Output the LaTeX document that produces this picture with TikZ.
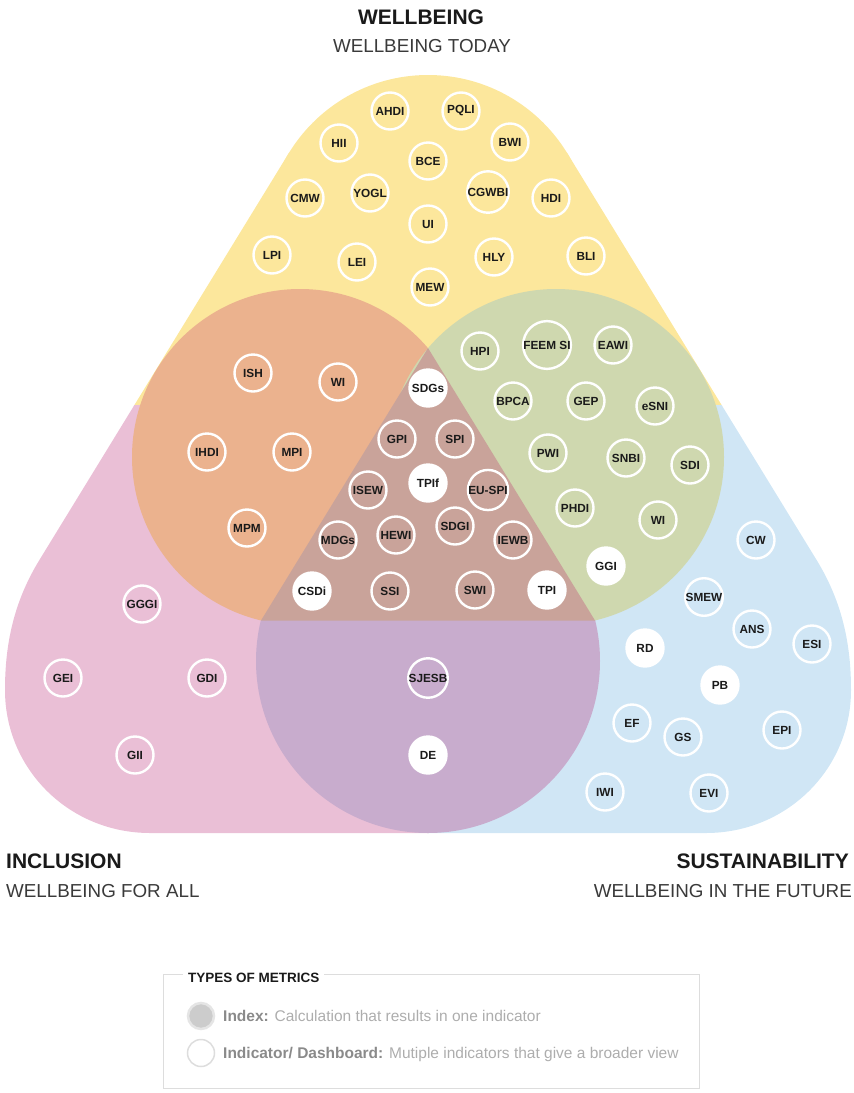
\documentclass[tikz,border=0pt]{standalone}
\usepackage{fontspec}
\setmainfont{Liberation Sans}
\definecolor{cyel}{HTML}{FCE79C}
\definecolor{cpink}{HTML}{EABFD6}
\definecolor{cblue}{HTML}{D0E6F5}
\definecolor{corange}{HTML}{EBB28E}
\definecolor{cgreen}{HTML}{CFD8AF}
\definecolor{cpurple}{HTML}{C8ACCD}
\definecolor{cbrown}{HTML}{C9A39A}
\definecolor{ctext}{HTML}{1A1A1A}
\definecolor{csub}{HTML}{3A3A3A}
\definecolor{cbox}{HTML}{DDDDDD}
\definecolor{clegA}{HTML}{8A8A8A}
\definecolor{clegB}{HTML}{ADADAD}
\newcommand\labf{\fontsize{11.8}{13}\selectfont\bfseries}
\newcommand\titf{\fontsize{21}{24}\selectfont\bfseries}
\newcommand\subf{\fontsize{18.8}{22}\selectfont}
\begin{document}
\begin{tikzpicture}[x=1pt,y=-1pt,
  idx/.style={circle, draw=white, line width=2.4pt, minimum size=37pt, inner sep=0pt, font=\labf, text=ctext},
  ind/.style={idx, fill=white},
  ttl/.style={inner sep=0pt, font=\titf, text=ctext},
  sub/.style={inner sep=0pt, font=\subf, text=csub}]
\useasboundingbox (0,0) rectangle (854,1093);
\def\hullpoly{(289,152.8) -- (39.4,560) .. controls (13.3,602.6) and (5,645) .. (5,690) .. controls (5,770) and (70,833) .. (150,833) -- (706,833) .. controls (786,833) and (851,770) .. (851,690) .. controls (851,645) and (842.7,602.6) .. (816.6,560) -- (567,152.8) -- cycle}
% background sets
\begin{scope}
  \clip (0,0) rectangle (854,405);
  \fill[cyel] \hullpoly;
  \fill[cyel] (428,238) circle[radius=163];
\end{scope}
\begin{scope}
  \clip (0,405) rectangle (428,1093);
  \fill[cpink] \hullpoly;
\end{scope}
\begin{scope}
  \clip (428,405) rectangle (854,1093);
  \fill[cblue] \hullpoly;
\end{scope}
% pairwise overlaps
\fill[corange] (300,457) circle[radius=168];
\fill[cgreen] (556,457) circle[radius=168];
\begin{scope}
  \clip (0,620.5) rectangle (854,1093);
  \fill[cpurple] (428,661) circle[radius=172];
\end{scope}
\fill[cbrown] (428,348) -- (261,620.5) -- (595,620.5) -- cycle;

% Wellbeing
\node[idx] (ahdi) at (390,111) {AHDI};
\node[idx] (pqli) at (461,111) {PQLI};
\node[idx] (hii) at (339,143) {HII};
\node[idx] (bwi) at (510,142) {BWI};
\node[idx] (bce) at (428,161) {BCE};
\node[idx] (cmw) at (305,198) {CMW};
\node[idx] (yogl) at (370,193) {YOGL};
\node[idx] (cgwbi) at (488,192) {CGWBI};
\node[idx] (hdi) at (551,198) {HDI};
\node[idx] (ui) at (428,224) {UI};
\node[idx] (lpi) at (272,255) {LPI};
\node[idx] (lei) at (357,262) {LEI};
\node[idx] (hly) at (494,257) {HLY};
\node[idx] (bli) at (586,256) {BLI};
\node[idx] (mew) at (430,287) {MEW};
% Wellbeing & Inclusion
\node[idx] (ish) at (253,373) {ISH};
\node[idx] (wia) at (338,382) {WI};
\node[idx] (ihdi) at (207,452) {IHDI};
\node[idx] (mpi) at (292,452) {MPI};
\node[idx] (mpm) at (247,528) {MPM};
% centre
\node[ind] (sdgs) at (428,388) {SDGs};
\node[idx] (gpi) at (397,439) {GPI};
\node[idx] (spi) at (455,439) {SPI};
\node[ind] (tpif) at (428,483) {TPIf};
\node[idx] (isew) at (368,490) {ISEW};
\node[idx] (euspi) at (488,490) {EU-SPI};
\node[idx] (mdgs) at (338,540) {MDGs};
\node[idx] (hewi) at (396,535) {HEWI};
\node[idx] (sdgi) at (455,526) {SDGI};
\node[idx] (iewb) at (513,540) {IEWB};
\node[ind] (csdi) at (312,591) {CSDi};
\node[idx] (ssi) at (390,591) {SSI};
\node[idx] (swi) at (475,590) {SWI};
\node[ind] (tpi) at (547,590) {TPI};
% Wellbeing & Sustainability
\node[idx] (hpi) at (480,351) {HPI};
\node[idx] (feem) at (547,345) {FEEM SI};
\node[idx] (eawi) at (613,345) {EAWI};
\node[idx] (bpca) at (513,401) {BPCA};
\node[idx] (gep) at (586,401) {GEP};
\node[idx] (esni) at (655,406) {eSNI};
\node[idx] (pwi) at (548,453) {PWI};
\node[idx] (snbi) at (626,458) {SNBI};
\node[idx] (sdi) at (690,465) {SDI};
\node[idx] (phdi) at (575,508) {PHDI};
\node[idx] (wib) at (658,520) {WI};
\node[ind] (ggi) at (606,566) {GGI};
% Inclusion
\node[idx] (gggi) at (142,604) {GGGI};
\node[idx] (gei) at (63,678) {GEI};
\node[idx] (gdi) at (207,678) {GDI};
\node[idx] (gii) at (135,755) {GII};
% Inclusion & Sustainability
\node[idx] (sjesb) at (428,678) {SJESB};
\node[ind] (de) at (428,755) {DE};
% Sustainability
\node[idx] (cw) at (756,540) {CW};
\node[idx] (smew) at (704,597) {SMEW};
\node[idx] (ans) at (752,629) {ANS};
\node[idx] (esi) at (812,644) {ESI};
\node[ind] (rd) at (645,648) {RD};
\node[ind] (pb) at (720,685) {PB};
\node[idx] (ef) at (632,723) {EF};
\node[idx] (gs) at (683,737) {GS};
\node[idx] (epi) at (782,730) {EPI};
\node[idx] (iwi) at (605,792) {IWI};
\node[idx] (evi) at (709,793) {EVI};

% titles
\node[ttl, anchor=base] (tw) at (421,24) {WELLBEING};
\node[sub, anchor=base] (tws) at (422,52) {WELLBEING TODAY};
\node[ttl, anchor=base west] (ti) at (6,868) {INCLUSION};
\node[sub, anchor=base west] (tis) at (6,897) {WELLBEING FOR ALL};
\node[ttl, anchor=base east] (ts) at (849,868) {SUSTAINABILITY};
\node[sub, anchor=base east] (tss) at (852,897) {WELLBEING IN THE FUTURE};

% legend
\draw[cbox, line width=1pt] (163,974) rectangle (699,1088);
\node[anchor=base west, fill=white, inner xsep=5pt, inner ysep=2pt, font=\fontsize{13.5}{16}\selectfont\bfseries, text=ctext] (lt) at (183,982) {TYPES OF METRICS};
\node[circle, fill=black!20, draw=black!10, line width=2.5pt, minimum size=26pt, inner sep=0pt] (lc1) at (201,1016) {};
\node[circle, fill=white, draw=cbox, line width=1.5pt, minimum size=27pt, inner sep=0pt] (lc2) at (201,1053) {};
\node[anchor=base west, inner sep=0pt, font=\fontsize{15.5}{18}\selectfont] (l1) at (223,1021) {\textcolor{clegA}{\bfseries Index:} \textcolor{clegB}{Calculation that results in one indicator}};
\node[anchor=base west, inner sep=0pt, font=\fontsize{15.5}{18}\selectfont] (l2) at (223,1058) {\textcolor{clegA}{\bfseries Indicator/ Dashboard:} \textcolor{clegB}{Mutiple indicators that give a broader view}};
\end{tikzpicture}
\end{document}
